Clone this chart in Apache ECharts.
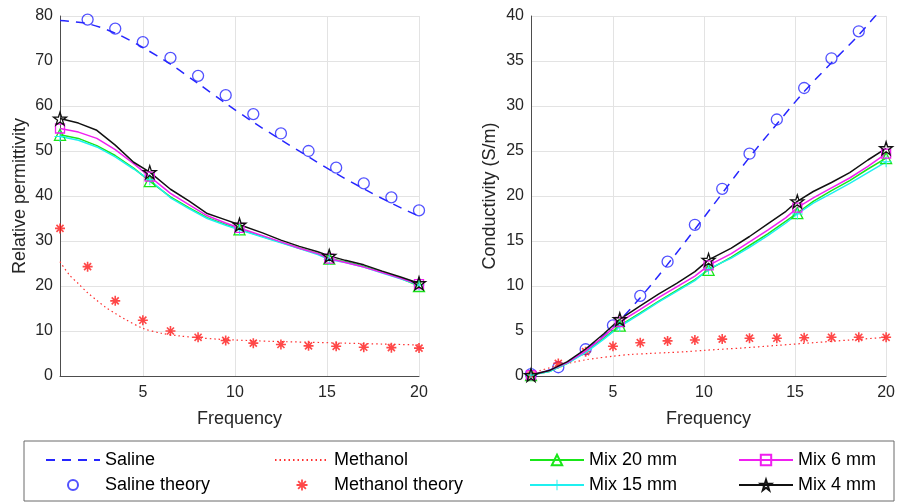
<!DOCTYPE html>
<html>
<head>
    <meta charset="utf-8">
    <title>Permittivity and conductivity</title>
    <script src="https://cdn.jsdelivr.net/npm/echarts@6/dist/echarts.min.js"></script>
</head>
<body style="margin:0;background:#fff;">
    <div id="main" style="width: 898px;height:502px;"></div>
    <script>
        // frequency axis for the measured curves
        let lineFreq = [0.5, 2, 3.5, 5, 6.5, 8, 9.5, 11, 12.5, 14, 15.5, 17, 18.5, 20];
        let methFreq = [0.5, 1, 1.5, 2, 2.5, 3, 3.5, 4, 5, 6, 7, 8, 9, 10, 12, 14, 16, 18, 20];
        let theoryFreq = [0.5, 2, 3.5, 5, 6.5, 8, 9.5, 11, 12.5, 14, 15.5, 17, 18.5, 20];
        let mixFreq = [0.5, 1.5, 2.5, 3.5, 4.5, 5.375, 6.5, 7.5, 8.5, 9.5, 10.25, 11.5, 12.5, 13.5, 14.5, 15.125, 16, 17, 18, 19, 20];
        let markIdx = [0, 5, 10, 15, 20];

        // relative permittivity
        let salinePerm = [79.0, 78.3, 76.2, 73.0, 69.3, 65.0, 60.6, 56.4, 52.5, 48.7, 45.0, 41.6, 38.4, 35.5];
        let methPerm = [25.4, 22.5, 20.5, 18.5, 16.8, 15.2, 13.9, 12.7, 10.6, 9.5, 8.9, 8.5, 8.2, 8.0, 7.7, 7.5, 7.3, 7.1, 6.9];
        let salineTheoryPerm = [79.2, 77.2, 74.2, 70.7, 66.7, 62.4, 58.2, 53.9, 50.0, 46.3, 42.8, 39.7, 36.8]; // from 2 GHz
        let methTheoryPerm = [32.8, 24.3, 16.7, 12.4, 10.0, 8.6, 7.9, 7.3, 7.0, 6.7, 6.6, 6.4, 6.3, 6.2];
        let mix20Perm = [53.6, 52.8, 51.2, 49.0, 46.2, 43.3, 39.8, 37.4, 35.2, 33.7, 32.6, 31.0, 29.7, 28.4, 27.2, 26.1, 25.4, 24.4, 23.1, 21.7, 20.0];
        let mix15Perm = [53.2, 52.4, 50.9, 48.7, 46.0, 43.6, 39.6, 37.2, 35.0, 33.5, 32.5, 30.9, 29.6, 28.3, 27.0, 25.9, 25.2, 24.2, 22.9, 21.6, 20.2];
        let mix6Perm = [55.0, 54.2, 52.8, 50.3, 47.2, 44.3, 40.6, 38.1, 35.6, 34.0, 32.9, 31.2, 29.8, 28.4, 27.2, 26.1, 25.2, 24.2, 23.0, 21.7, 20.4];
        let mix4Perm = [57.2, 56.2, 54.6, 51.3, 47.5, 45.3, 41.5, 38.9, 36.1, 34.7, 33.6, 31.8, 30.2, 28.8, 27.6, 26.7, 25.7, 24.7, 23.3, 22.0, 20.6];

        // conductivity (S/m)
        let salineCond = [0.1, 1.0, 2.9, 5.4, 8.7, 12.4, 16.3, 20.3, 24.3, 28.0, 31.6, 34.8, 37.9, 41.4];
        let methCond = [0.2, 0.6, 0.9, 1.2, 1.4, 1.6, 1.8, 1.95, 2.2, 2.4, 2.5, 2.6, 2.7, 2.85, 3.1, 3.4, 3.7, 4.0, 4.3];
        let salineTheoryCond = [0.2, 0.97, 2.97, 5.63, 8.9, 12.7, 16.8, 20.8, 24.7, 28.5, 32.0, 35.3, 38.3]; // up to 18.5 GHz
        let methTheoryCond = [0.1, 1.4, 2.7, 3.3, 3.7, 3.9, 4.0, 4.1, 4.2, 4.2, 4.25, 4.3, 4.3, 4.3];
        let mix20Cond = [0.1, 0.5, 1.4, 2.7, 4.2, 5.6, 7.0, 8.3, 9.5, 10.7, 11.8, 13.2, 14.5, 15.8, 17.2, 18.1, 19.4, 20.6, 21.7, 23.0, 24.2];
        let mix15Cond = [0.1, 0.5, 1.4, 2.6, 4.1, 5.5, 6.9, 8.2, 9.4, 10.6, 11.9, 13.1, 14.3, 15.6, 17.0, 18.0, 19.2, 20.3, 21.4, 22.6, 23.8];
        let mix6Cond = [0.1, 0.6, 1.5, 2.8, 4.4, 6.0, 7.4, 8.7, 9.9, 11.1, 12.3, 13.6, 14.9, 16.2, 17.6, 18.7, 19.8, 20.9, 22.0, 23.3, 24.7];
        let mix4Cond = [0.1, 0.6, 1.6, 3.0, 4.7, 6.3, 7.8, 9.1, 10.3, 11.6, 12.9, 14.2, 15.5, 16.9, 18.3, 19.4, 20.5, 21.5, 22.6, 24.0, 25.3];

        let xTicks = [5, 10, 15, 20];

        // marker shapes
        let starPath = 'path://M0,-10L2.245,-3.09L9.511,-3.09L3.633,1.18L5.878,8.09L0,3.82L-5.878,8.09L-3.633,1.18L-9.511,-3.09L-2.245,-3.09Z';
        let asteriskPath = 'path://M-1.6,-10L1.6,-10L1.6,10L-1.6,10Z M-10,-1.6L10,-1.6L10,1.6L-10,1.6Z M-8.2,-5.9L-5.9,-8.2L8.2,5.9L5.9,8.2Z M-8.2,5.9L5.9,-8.2L8.2,-5.9L-5.9,8.2Z';
        let plusPath = 'path://M-0.9,-10L0.9,-10L0.9,-0.9L10,-0.9L10,0.9L0.9,0.9L0.9,10L-0.9,10L-0.9,0.9L-10,0.9L-10,-0.9L-0.9,-0.9Z';

        let textColor = '#262626';

        function pairs(xs, ys) {
            return ys.map((y, i) => [xs[i], y]);
        }

        function mixData(ys, sym) {
            return ys.map((y, i) => ({
                value: [mixFreq[i], y],
                symbol: markIdx.indexOf(i) >= 0 ? sym : 'none'
            }));
        }

        function xAxisFor(gridIndex) {
            return {
                type: 'value',
                gridIndex: gridIndex,
                min: 0.5,
                max: 20,
                name: 'Frequency',
                nameLocation: 'middle',
                nameGap: 34,
                nameTextStyle: { fontFamily: 'Liberation Sans', fontSize: 18, color: textColor },
                axisLine: { show: true, onZero: false, lineStyle: { color: '#4d4d4d', width: 1 } },
                axisTick: { show: false, customValues: xTicks },
                axisLabel: { customValues: xTicks, margin: 9, fontFamily: 'Liberation Sans', fontSize: 16, color: textColor },
                splitLine: { show: true, lineStyle: { color: '#e3e3e3', width: 1 } }
            };
        }

        function yAxisFor(gridIndex, name, max, interval, gap) {
            return {
                type: 'value',
                gridIndex: gridIndex,
                min: 0,
                max: max,
                interval: interval,
                name: name,
                nameLocation: 'middle',
                nameGap: gap,
                nameTextStyle: { fontFamily: 'Liberation Sans', fontSize: 18, color: textColor },
                axisLine: { show: true, lineStyle: { color: '#4d4d4d', width: 1 } },
                axisTick: { show: false },
                axisLabel: { margin: 7, fontFamily: 'Liberation Sans', fontSize: 16, color: textColor },
                splitLine: { show: true, lineStyle: { color: '#e3e3e3', width: 1 } }
            };
        }

        function seriesFor(idx, saline, meth, salTh, salThFreq, methTh, m20, m15, m6, m4) {
            return [
                {
                    name: 'Saline', type: 'line', xAxisIndex: idx, yAxisIndex: idx,
                    data: pairs(lineFreq, saline), symbol: 'none', smooth: 0.3,
                    lineStyle: { color: '#2626ff', width: 1.5, type: [9, 7] },
                    itemStyle: { color: '#2626ff' }
                },
                {
                    name: 'Methanol', type: 'line', xAxisIndex: idx, yAxisIndex: idx,
                    data: pairs(methFreq, meth), symbol: 'none', smooth: 0.3,
                    lineStyle: { color: '#ff3030', width: 1.2, type: [1.5, 3] },
                    itemStyle: { color: '#ff3030' }
                },
                {
                    name: 'Saline theory', type: 'scatter', xAxisIndex: idx, yAxisIndex: idx,
                    data: pairs(salThFreq, salTh), symbol: 'circle', symbolSize: 11,
                    itemStyle: { color: 'rgba(255,255,255,0)', borderColor: '#2626ff', borderWidth: 1.3 }
                },
                {
                    name: 'Methanol theory', type: 'scatter', xAxisIndex: idx, yAxisIndex: idx,
                    data: pairs(theoryFreq, methTh), symbol: asteriskPath, symbolSize: 10,
                    itemStyle: { color: '#ff1a1a' }
                },
                {
                    name: 'Mix 20 mm', type: 'line', xAxisIndex: idx, yAxisIndex: idx,
                    data: mixData(m20, 'triangle'), symbol: 'triangle', symbolSize: 11, showAllSymbol: true,
                    lineStyle: { color: '#19e619', width: 1.5 },
                    itemStyle: { color: 'rgba(255,255,255,0)', borderColor: '#19e619', borderWidth: 1.3 }
                },
                {
                    name: 'Mix 15 mm', type: 'line', xAxisIndex: idx, yAxisIndex: idx,
                    data: mixData(m15, plusPath), symbol: plusPath, symbolSize: 11, showAllSymbol: true,
                    lineStyle: { color: '#1ff0f0', width: 1.5 },
                    itemStyle: { color: '#1ff0f0' }
                },
                {
                    name: 'Mix 6 mm', type: 'line', xAxisIndex: idx, yAxisIndex: idx,
                    data: mixData(m6, 'rect'), symbol: 'rect', symbolSize: 9, showAllSymbol: true,
                    lineStyle: { color: '#f01ff0', width: 1.5 },
                    itemStyle: { color: 'rgba(255,255,255,0)', borderColor: '#f01ff0', borderWidth: 1.3 }
                },
                {
                    name: 'Mix 4 mm', type: 'line', xAxisIndex: idx, yAxisIndex: idx,
                    data: mixData(m4, starPath), symbol: starPath, symbolSize: 13, showAllSymbol: true,
                    lineStyle: { color: '#111', width: 1.5 },
                    itemStyle: { color: 'rgba(255,255,255,0)', borderColor: '#111', borderWidth: 1.3 }
                }
            ];
        }

        function legendAt(left, names, iconH) {
            return {
                data: names,
                left: left,
                top: 446,
                orient: 'vertical',
                itemWidth: 54,
                itemHeight: iconH,
                itemGap: 7,
                selectedMode: false,
                textStyle: { fontFamily: 'Liberation Sans', fontSize: 18, color: '#000' }
            };
        }

        let myChart = echarts.init(document.getElementById('main'));

        let option = {
            animation: false,
            backgroundColor: '#fff',
            grid: [
                { left: 60, top: 16, width: 359, height: 360 },
                { left: 531, top: 16, width: 360, height: 360 }
            ],
            xAxis: [xAxisFor(0), xAxisFor(1)],
            yAxis: [
                yAxisFor(0, 'Relative permittivity', 80, 10, 31),
                yAxisFor(1, 'Conductivity (S/m)', 40, 5, 32)
            ],
            graphic: [{
                type: 'rect',
                shape: { x: 24, y: 441, width: 870, height: 60 },
                style: { fill: '#fff', stroke: '#6b6b6b', lineWidth: 1 },
                z: -1
            }],
            legend: [
                legendAt(40, [{ name: 'Saline', itemStyle: { opacity: 0 } }, 'Saline theory'], 10),
                legendAt(269, [{ name: 'Methanol', itemStyle: { opacity: 0 } }, 'Methanol theory'], 11),
                legendAt(524, ['Mix 20 mm', 'Mix 15 mm'], 13),
                legendAt(733, ['Mix 6 mm', 'Mix 4 mm'], 13)
            ],
            series: seriesFor(0, salinePerm, methPerm, salineTheoryPerm, theoryFreq.slice(1), methTheoryPerm,
                    mix20Perm, mix15Perm, mix6Perm, mix4Perm)
                .concat(seriesFor(1, salineCond, methCond, salineTheoryCond, theoryFreq.slice(0, 13), methTheoryCond,
                    mix20Cond, mix15Cond, mix6Cond, mix4Cond))
        };

        myChart.setOption(option);
    </script>
</body>
</html>
